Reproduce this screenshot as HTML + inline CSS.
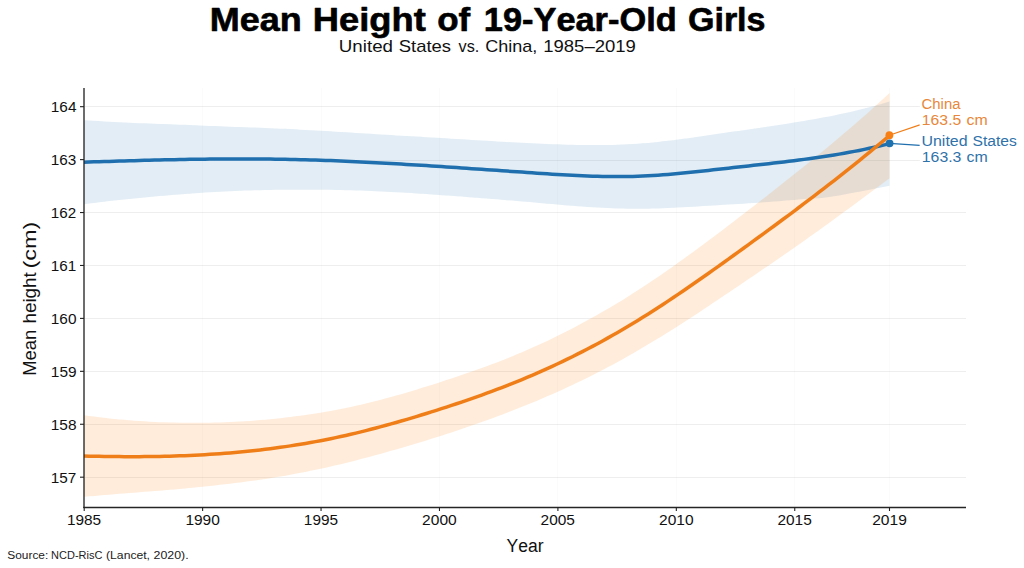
<!DOCTYPE html>
<html><head><meta charset="utf-8"><style>
html,body{margin:0;padding:0;background:#fff;width:1024px;height:568px;overflow:hidden}
svg{display:block}
text{font-family:"Liberation Sans",sans-serif;fill:#111;font-kerning:none;font-variant-ligatures:none}
.gh{stroke:#000;stroke-opacity:0.066;stroke-width:1}
.gv{stroke:#000;stroke-opacity:0.014;stroke-width:1}
.tk{stroke:#222;stroke-width:1.1}
</style></head><body>
<svg width="1024" height="568" viewBox="0 0 1024 568">
<rect width="1024" height="568" fill="#fff"/>
<line x1="85" y1="477.5" x2="966" y2="477.5" class="gh"/><line x1="85" y1="424.5" x2="966" y2="424.5" class="gh"/><line x1="85" y1="371.5" x2="966" y2="371.5" class="gh"/><line x1="85" y1="318.5" x2="966" y2="318.5" class="gh"/><line x1="85" y1="265.5" x2="966" y2="265.5" class="gh"/><line x1="85" y1="212.5" x2="966" y2="212.5" class="gh"/><line x1="85" y1="160.5" x2="966" y2="160.5" class="gh"/><line x1="85" y1="106.5" x2="966" y2="106.5" class="gh"/><line x1="202.5" y1="88" x2="202.5" y2="506.5" class="gv"/><line x1="321.5" y1="88" x2="321.5" y2="506.5" class="gv"/><line x1="439.5" y1="88" x2="439.5" y2="506.5" class="gv"/><line x1="557.5" y1="88" x2="557.5" y2="506.5" class="gv"/><line x1="676.5" y1="88" x2="676.5" y2="506.5" class="gv"/><line x1="794.5" y1="88" x2="794.5" y2="506.5" class="gv"/><line x1="889.5" y1="88" x2="889.5" y2="506.5" class="gv"/>
<path d="M84.00,120.18 L89.03,120.51 L94.07,120.82 L99.10,121.12 L104.14,121.41 L109.17,121.69 L114.21,121.96 L119.24,122.21 L124.28,122.45 L129.31,122.69 L134.34,122.91 L139.38,123.13 L144.41,123.34 L149.45,123.54 L154.48,123.73 L159.52,123.92 L164.55,124.11 L169.58,124.29 L174.62,124.48 L179.65,124.67 L184.69,124.87 L189.72,125.07 L194.76,125.27 L199.79,125.48 L204.82,125.69 L209.86,125.89 L214.89,126.10 L219.93,126.30 L224.96,126.50 L230.00,126.69 L235.03,126.89 L240.07,127.07 L245.10,127.25 L250.13,127.42 L255.17,127.60 L260.20,127.78 L265.24,127.98 L270.27,128.19 L275.31,128.40 L280.34,128.63 L285.38,128.86 L290.41,129.11 L295.44,129.36 L300.48,129.63 L305.51,129.90 L310.55,130.18 L315.58,130.46 L320.62,130.75 L325.65,131.05 L330.68,131.35 L335.72,131.66 L340.75,131.96 L345.79,132.28 L350.82,132.59 L355.86,132.90 L360.89,133.22 L365.93,133.53 L370.96,133.84 L375.99,134.16 L381.03,134.47 L386.06,134.78 L391.10,135.08 L396.13,135.38 L401.17,135.68 L406.20,135.97 L411.23,136.27 L416.27,136.57 L421.30,136.87 L426.34,137.17 L431.37,137.47 L436.41,137.77 L441.44,138.07 L446.47,138.37 L451.51,138.67 L456.54,138.98 L461.58,139.28 L466.61,139.58 L471.65,139.89 L476.68,140.19 L481.72,140.50 L486.75,140.80 L491.78,141.10 L496.82,141.40 L501.85,141.70 L506.89,142.00 L511.92,142.28 L516.96,142.55 L521.99,142.81 L527.02,143.06 L532.06,143.30 L537.09,143.54 L542.13,143.76 L547.16,143.97 L552.20,144.17 L557.23,144.36 L562.27,144.53 L567.30,144.68 L572.33,144.81 L577.37,144.92 L582.40,145.01 L587.44,145.07 L592.47,145.11 L597.51,145.12 L602.54,145.09 L607.57,145.03 L612.61,144.93 L617.64,144.78 L622.68,144.59 L627.71,144.35 L632.75,144.06 L637.78,143.73 L642.82,143.34 L647.85,142.90 L652.88,142.43 L657.92,141.91 L662.95,141.36 L667.99,140.78 L673.02,140.17 L678.06,139.53 L683.09,138.87 L688.12,138.18 L693.16,137.49 L698.19,136.78 L703.23,136.05 L708.26,135.32 L713.30,134.59 L718.33,133.84 L723.37,133.10 L728.40,132.35 L733.43,131.61 L738.47,130.88 L743.50,130.14 L748.54,129.41 L753.57,128.68 L758.61,127.95 L763.64,127.21 L768.67,126.47 L773.71,125.72 L778.74,124.96 L783.78,124.19 L788.81,123.40 L793.85,122.60 L798.88,121.78 L803.92,120.94 L808.95,120.08 L813.98,119.20 L819.02,118.29 L824.05,117.36 L829.09,116.39 L834.12,115.39 L839.16,114.36 L844.19,113.29 L849.23,112.18 L854.26,111.02 L859.29,109.82 L864.33,108.57 L869.36,107.28 L874.40,105.94 L879.43,104.54 L884.47,103.09 L889.50,101.59 L889.50,185.79 L884.47,186.83 L879.43,187.84 L874.40,188.83 L869.36,189.79 L864.33,190.74 L859.29,191.68 L854.26,192.61 L849.23,193.54 L844.19,194.47 L839.16,195.38 L834.12,196.25 L829.09,197.06 L824.05,197.70 L819.02,198.16 L813.98,198.50 L808.95,198.80 L803.92,199.11 L798.88,199.49 L793.85,199.91 L788.81,200.34 L783.78,200.76 L778.74,201.18 L773.71,201.59 L768.67,201.99 L763.64,202.37 L758.61,202.72 L753.57,203.05 L748.54,203.36 L743.50,203.67 L738.47,203.96 L733.43,204.26 L728.40,204.56 L723.37,204.86 L718.33,205.16 L713.30,205.48 L708.26,205.79 L703.23,206.11 L698.19,206.43 L693.16,206.75 L688.12,207.05 L683.09,207.34 L678.06,207.61 L673.02,207.85 L667.99,208.07 L662.95,208.27 L657.92,208.43 L652.88,208.57 L647.85,208.67 L642.82,208.73 L637.78,208.76 L632.75,208.74 L627.71,208.68 L622.68,208.59 L617.64,208.45 L612.61,208.28 L607.57,208.07 L602.54,207.84 L597.51,207.58 L592.47,207.28 L587.44,206.96 L582.40,206.61 L577.37,206.23 L572.33,205.84 L567.30,205.43 L562.27,205.00 L557.23,204.57 L552.20,204.12 L547.16,203.67 L542.13,203.22 L537.09,202.76 L532.06,202.31 L527.02,201.86 L521.99,201.42 L516.96,200.99 L511.92,200.57 L506.89,200.15 L501.85,199.74 L496.82,199.34 L491.78,198.95 L486.75,198.55 L481.72,198.16 L476.68,197.77 L471.65,197.38 L466.61,196.99 L461.58,196.61 L456.54,196.23 L451.51,195.86 L446.47,195.49 L441.44,195.13 L436.41,194.77 L431.37,194.42 L426.34,194.07 L421.30,193.74 L416.27,193.41 L411.23,193.09 L406.20,192.78 L401.17,192.48 L396.13,192.19 L391.10,191.91 L386.06,191.65 L381.03,191.41 L375.99,191.19 L370.96,190.98 L365.93,190.78 L360.89,190.60 L355.86,190.44 L350.82,190.29 L345.79,190.16 L340.75,190.04 L335.72,189.94 L330.68,189.85 L325.65,189.78 L320.62,189.72 L315.58,189.68 L310.55,189.66 L305.51,189.64 L300.48,189.64 L295.44,189.66 L290.41,189.69 L285.38,189.74 L280.34,189.80 L275.31,189.87 L270.27,189.95 L265.24,190.05 L260.20,190.16 L255.17,190.28 L250.13,190.42 L245.10,190.57 L240.07,190.74 L235.03,190.95 L230.00,191.17 L224.96,191.42 L219.93,191.69 L214.89,191.98 L209.86,192.29 L204.82,192.61 L199.79,192.95 L194.76,193.31 L189.72,193.67 L184.69,194.05 L179.65,194.44 L174.62,194.83 L169.58,195.23 L164.55,195.64 L159.52,196.06 L154.48,196.49 L149.45,196.94 L144.41,197.40 L139.38,197.88 L134.34,198.38 L129.31,198.89 L124.28,199.41 L119.24,199.95 L114.21,200.51 L109.17,201.09 L104.14,201.68 L99.10,202.28 L94.07,202.90 L89.03,203.54 L84.00,204.18 Z" fill="#1f77b4" fill-opacity="0.13"/>
<path d="M84.00,415.21 L89.03,415.91 L94.07,416.58 L99.10,417.21 L104.14,417.82 L109.17,418.39 L114.21,418.92 L119.24,419.42 L124.28,419.87 L129.31,420.30 L134.34,420.69 L139.38,421.04 L144.41,421.37 L149.45,421.66 L154.48,421.91 L159.52,422.13 L164.55,422.32 L169.58,422.47 L174.62,422.60 L179.65,422.70 L184.69,422.77 L189.72,422.82 L194.76,422.84 L199.79,422.83 L204.82,422.79 L209.86,422.72 L214.89,422.62 L219.93,422.48 L224.96,422.31 L230.00,422.10 L235.03,421.86 L240.07,421.59 L245.10,421.27 L250.13,420.91 L255.17,420.53 L260.20,420.11 L265.24,419.67 L270.27,419.20 L275.31,418.69 L280.34,418.16 L285.38,417.59 L290.41,416.99 L295.44,416.36 L300.48,415.69 L305.51,414.99 L310.55,414.25 L315.58,413.47 L320.62,412.65 L325.65,411.79 L330.68,410.90 L335.72,409.96 L340.75,408.98 L345.79,407.96 L350.82,406.89 L355.86,405.79 L360.89,404.65 L365.93,403.47 L370.96,402.25 L375.99,400.99 L381.03,399.69 L386.06,398.36 L391.10,396.99 L396.13,395.58 L401.17,394.14 L406.20,392.67 L411.23,391.17 L416.27,389.66 L421.30,388.12 L426.34,386.56 L431.37,384.98 L436.41,383.38 L441.44,381.76 L446.47,380.12 L451.51,378.46 L456.54,376.78 L461.58,375.08 L466.61,373.35 L471.65,371.59 L476.68,369.81 L481.72,367.99 L486.75,366.15 L491.78,364.28 L496.82,362.38 L501.85,360.44 L506.89,358.46 L511.92,356.43 L516.96,354.36 L521.99,352.24 L527.02,350.07 L532.06,347.85 L537.09,345.58 L542.13,343.27 L547.16,340.91 L552.20,338.50 L557.23,336.04 L562.27,333.54 L567.30,330.99 L572.33,328.39 L577.37,325.75 L582.40,323.06 L587.44,320.33 L592.47,317.56 L597.51,314.74 L602.54,311.87 L607.57,308.96 L612.61,305.99 L617.64,302.97 L622.68,299.89 L627.71,296.76 L632.75,293.58 L637.78,290.35 L642.82,287.07 L647.85,283.73 L652.88,280.35 L657.92,276.93 L662.95,273.46 L667.99,269.96 L673.02,266.42 L678.06,262.84 L683.09,259.23 L688.12,255.59 L693.16,251.92 L698.19,248.22 L703.23,244.50 L708.26,240.75 L713.30,236.98 L718.33,233.19 L723.37,229.38 L728.40,225.55 L733.43,221.70 L738.47,217.84 L743.50,213.98 L748.54,210.10 L753.57,206.20 L758.61,202.30 L763.64,198.38 L768.67,194.46 L773.71,190.51 L778.74,186.55 L783.78,182.58 L788.81,178.59 L793.85,174.59 L798.88,170.57 L803.92,166.53 L808.95,162.47 L813.98,158.40 L819.02,154.30 L824.05,150.18 L829.09,146.03 L834.12,141.84 L839.16,137.62 L844.19,133.36 L849.23,129.06 L854.26,124.72 L859.29,120.33 L864.33,115.88 L869.36,111.39 L874.40,106.86 L879.43,102.27 L884.47,97.65 L889.50,92.97 L889.50,178.17 L884.47,181.98 L879.43,185.77 L874.40,189.54 L869.36,193.29 L864.33,197.03 L859.29,200.75 L854.26,204.46 L849.23,208.17 L844.19,211.86 L839.16,215.55 L834.12,219.22 L829.09,222.88 L824.05,226.52 L819.02,230.14 L813.98,233.75 L808.95,237.34 L803.92,240.91 L798.88,244.46 L793.85,247.98 L788.81,251.49 L783.78,254.99 L778.74,258.47 L773.71,261.93 L768.67,265.39 L763.64,268.83 L758.61,272.26 L753.57,275.69 L748.54,279.11 L743.50,282.52 L738.47,285.93 L733.43,289.33 L728.40,292.72 L723.37,296.11 L718.33,299.49 L713.30,302.86 L708.26,306.21 L703.23,309.56 L698.19,312.88 L693.16,316.18 L688.12,319.46 L683.09,322.71 L678.06,325.94 L673.02,329.13 L667.99,332.30 L662.95,335.43 L657.92,338.53 L652.88,341.59 L647.85,344.62 L642.82,347.60 L637.78,350.55 L632.75,353.45 L627.71,356.31 L622.68,359.13 L617.64,361.91 L612.61,364.65 L607.57,367.34 L602.54,370.00 L597.51,372.62 L592.47,375.19 L587.44,377.71 L582.40,380.19 L577.37,382.62 L572.33,385.01 L567.30,387.36 L562.27,389.67 L557.23,391.94 L552.20,394.17 L547.16,396.37 L542.13,398.53 L537.09,400.65 L532.06,402.74 L527.02,404.79 L521.99,406.82 L516.96,408.82 L511.92,410.79 L506.89,412.73 L501.85,414.66 L496.82,416.55 L491.78,418.42 L486.75,420.26 L481.72,422.07 L476.68,423.85 L471.65,425.61 L466.61,427.33 L461.58,429.04 L456.54,430.72 L451.51,432.38 L446.47,434.02 L441.44,435.64 L436.41,437.24 L431.37,438.82 L426.34,440.39 L421.30,441.94 L416.27,443.47 L411.23,444.98 L406.20,446.47 L401.17,447.94 L396.13,449.39 L391.10,450.82 L386.06,452.24 L381.03,453.65 L375.99,455.03 L370.96,456.40 L365.93,457.75 L360.89,459.07 L355.86,460.38 L350.82,461.66 L345.79,462.91 L340.75,464.14 L335.72,465.33 L330.68,466.50 L325.65,467.64 L320.62,468.75 L315.58,469.82 L310.55,470.87 L305.51,471.89 L300.48,472.87 L295.44,473.83 L290.41,474.76 L285.38,475.65 L280.34,476.52 L275.31,477.36 L270.27,478.17 L265.24,478.95 L260.20,479.70 L255.17,480.42 L250.13,481.11 L245.10,481.77 L240.07,482.42 L235.03,483.06 L230.00,483.68 L224.96,484.28 L219.93,484.86 L214.89,485.43 L209.86,485.99 L204.82,486.52 L199.79,487.05 L194.76,487.55 L189.72,488.04 L184.69,488.52 L179.65,488.97 L174.62,489.42 L169.58,489.84 L164.55,490.25 L159.52,490.66 L154.48,491.06 L149.45,491.45 L144.41,491.85 L139.38,492.25 L134.34,492.64 L129.31,493.04 L124.28,493.43 L119.24,493.82 L114.21,494.23 L109.17,494.64 L104.14,495.06 L99.10,495.49 L94.07,495.93 L89.03,496.37 L84.00,496.81 Z" fill="#ff7f0e" fill-opacity="0.15"/>
<path d="M84.00,162.18 L89.03,162.02 L94.07,161.86 L99.10,161.70 L104.14,161.54 L109.17,161.39 L114.21,161.23 L119.24,161.08 L124.28,160.93 L129.31,160.79 L134.34,160.65 L139.38,160.51 L144.41,160.37 L149.45,160.24 L154.48,160.11 L159.52,159.99 L164.55,159.87 L169.58,159.76 L174.62,159.65 L179.65,159.55 L184.69,159.46 L189.72,159.37 L194.76,159.29 L199.79,159.22 L204.82,159.15 L209.86,159.09 L214.89,159.04 L219.93,158.99 L224.96,158.96 L230.00,158.93 L235.03,158.92 L240.07,158.91 L245.10,158.91 L250.13,158.92 L255.17,158.94 L260.20,158.97 L265.24,159.02 L270.27,159.07 L275.31,159.14 L280.34,159.21 L285.38,159.30 L290.41,159.40 L295.44,159.51 L300.48,159.64 L305.51,159.77 L310.55,159.92 L315.58,160.07 L320.62,160.24 L325.65,160.42 L330.68,160.60 L335.72,160.80 L340.75,161.00 L345.79,161.22 L350.82,161.44 L355.86,161.67 L360.89,161.91 L365.93,162.16 L370.96,162.41 L375.99,162.67 L381.03,162.94 L386.06,163.22 L391.10,163.50 L396.13,163.78 L401.17,164.08 L406.20,164.38 L411.23,164.68 L416.27,164.99 L421.30,165.30 L426.34,165.62 L431.37,165.94 L436.41,166.27 L441.44,166.60 L446.47,166.93 L451.51,167.27 L456.54,167.60 L461.58,167.94 L466.61,168.29 L471.65,168.63 L476.68,168.98 L481.72,169.33 L486.75,169.67 L491.78,170.02 L496.82,170.37 L501.85,170.72 L506.89,171.07 L511.92,171.42 L516.96,171.77 L521.99,172.12 L527.02,172.46 L532.06,172.81 L537.09,173.15 L542.13,173.49 L547.16,173.83 L552.20,174.15 L557.23,174.47 L562.27,174.77 L567.30,175.06 L572.33,175.33 L577.37,175.58 L582.40,175.81 L587.44,176.02 L592.47,176.20 L597.51,176.35 L602.54,176.47 L607.57,176.55 L612.61,176.60 L617.64,176.62 L622.68,176.59 L627.71,176.52 L632.75,176.40 L637.78,176.24 L642.82,176.03 L647.85,175.78 L652.88,175.49 L657.92,175.17 L662.95,174.80 L667.99,174.41 L673.02,173.98 L678.06,173.53 L683.09,173.06 L688.12,172.56 L693.16,172.04 L698.19,171.51 L703.23,170.97 L708.26,170.41 L713.30,169.85 L718.33,169.28 L723.37,168.71 L728.40,168.14 L733.43,167.57 L738.47,167.01 L743.50,166.45 L748.54,165.89 L753.57,165.34 L758.61,164.78 L763.64,164.22 L768.67,163.65 L773.71,163.08 L778.74,162.50 L783.78,161.90 L788.81,161.30 L793.85,160.68 L798.88,160.04 L803.92,159.38 L808.95,158.71 L813.98,158.01 L819.02,157.29 L824.05,156.54 L829.09,155.76 L834.12,154.96 L839.16,154.12 L844.19,153.25 L849.23,152.34 L854.26,151.40 L859.29,150.42 L864.33,149.39 L869.36,148.33 L874.40,147.21 L879.43,146.06 L884.47,144.85 L889.50,143.59" fill="none" stroke="#1f6fae" stroke-width="3.5" stroke-linejoin="round"/>
<path d="M84.00,456.01 L89.03,456.14 L94.07,456.25 L99.10,456.35 L104.14,456.44 L109.17,456.52 L114.21,456.58 L119.24,456.62 L124.28,456.65 L129.31,456.67 L134.34,456.66 L139.38,456.65 L144.41,456.61 L149.45,456.56 L154.48,456.49 L159.52,456.39 L164.55,456.29 L169.58,456.16 L174.62,456.01 L179.65,455.84 L184.69,455.64 L189.72,455.43 L194.76,455.20 L199.79,454.94 L204.82,454.66 L209.86,454.35 L214.89,454.03 L219.93,453.67 L224.96,453.29 L230.00,452.89 L235.03,452.46 L240.07,452.00 L245.10,451.52 L250.13,451.01 L255.17,450.47 L260.20,449.90 L265.24,449.31 L270.27,448.68 L275.31,448.03 L280.34,447.34 L285.38,446.62 L290.41,445.88 L295.44,445.10 L300.48,444.28 L305.51,443.44 L310.55,442.56 L315.58,441.65 L320.62,440.70 L325.65,439.72 L330.68,438.70 L335.72,437.65 L340.75,436.56 L345.79,435.43 L350.82,434.28 L355.86,433.08 L360.89,431.86 L365.93,430.61 L370.96,429.32 L375.99,428.01 L381.03,426.67 L386.06,425.30 L391.10,423.90 L396.13,422.48 L401.17,421.04 L406.20,419.57 L411.23,418.08 L416.27,416.56 L421.30,415.03 L426.34,413.47 L431.37,411.90 L436.41,410.31 L441.44,408.70 L446.47,407.07 L451.51,405.42 L456.54,403.75 L461.58,402.06 L466.61,400.34 L471.65,398.60 L476.68,396.83 L481.72,395.03 L486.75,393.21 L491.78,391.35 L496.82,389.47 L501.85,387.55 L506.89,385.60 L511.92,383.61 L516.96,381.59 L521.99,379.53 L527.02,377.43 L532.06,375.29 L537.09,373.12 L542.13,370.90 L547.16,368.64 L552.20,366.34 L557.23,363.99 L562.27,361.61 L567.30,359.18 L572.33,356.70 L577.37,354.19 L582.40,351.63 L587.44,349.02 L592.47,346.37 L597.51,343.68 L602.54,340.94 L607.57,338.15 L612.61,335.32 L617.64,332.44 L622.68,329.51 L627.71,326.54 L632.75,323.52 L637.78,320.45 L642.82,317.33 L647.85,314.17 L652.88,310.97 L657.92,307.73 L662.95,304.45 L667.99,301.13 L673.02,297.77 L678.06,294.39 L683.09,290.97 L688.12,287.52 L693.16,284.05 L698.19,280.55 L703.23,277.03 L708.26,273.48 L713.30,269.92 L718.33,266.34 L723.37,262.75 L728.40,259.14 L733.43,255.52 L738.47,251.88 L743.50,248.25 L748.54,244.60 L753.57,240.95 L758.61,237.28 L763.64,233.61 L768.67,229.92 L773.71,226.22 L778.74,222.51 L783.78,218.78 L788.81,215.04 L793.85,211.29 L798.88,207.51 L803.92,203.72 L808.95,199.91 L813.98,196.07 L819.02,192.22 L824.05,188.35 L829.09,184.45 L834.12,180.53 L839.16,176.59 L844.19,172.61 L849.23,168.62 L854.26,164.59 L859.29,160.54 L864.33,156.46 L869.36,152.34 L874.40,148.20 L879.43,144.02 L884.47,139.81 L889.50,135.57" fill="none" stroke="#f07e18" stroke-width="3.5" stroke-linejoin="round"/>
<line x1="889.5" y1="143.3" x2="919.8" y2="145.3" stroke="#1f6fae" stroke-width="1.2"/>
<line x1="889.3" y1="135.2" x2="919.8" y2="124.9" stroke="#f07e18" stroke-width="1.2"/>
<circle cx="889.6" cy="143.3" r="3.9" fill="#1f72b0"/>
<circle cx="889.4" cy="135.2" r="3.9" fill="#f87f14"/>
<line x1="84" y1="88" x2="84" y2="508.1" stroke="#252525" stroke-width="1.35"/>
<line x1="83.35" y1="507.5" x2="966" y2="507.5" stroke="#252525" stroke-width="1.35"/>
<line x1="80" y1="477.19" x2="84" y2="477.19" class="tk"/><line x1="80" y1="424.26" x2="84" y2="424.26" class="tk"/><line x1="80" y1="371.33" x2="84" y2="371.33" class="tk"/><line x1="80" y1="318.40" x2="84" y2="318.40" class="tk"/><line x1="80" y1="265.47" x2="84" y2="265.47" class="tk"/><line x1="80" y1="212.54" x2="84" y2="212.54" class="tk"/><line x1="80" y1="159.61" x2="84" y2="159.61" class="tk"/><line x1="80" y1="106.68" x2="84" y2="106.68" class="tk"/><line x1="84.20" y1="507" x2="84.20" y2="511" class="tk"/><line x1="202.62" y1="507" x2="202.62" y2="511" class="tk"/><line x1="321.05" y1="507" x2="321.05" y2="511" class="tk"/><line x1="439.47" y1="507" x2="439.47" y2="511" class="tk"/><line x1="557.90" y1="507" x2="557.90" y2="511" class="tk"/><line x1="676.33" y1="507" x2="676.33" y2="511" class="tk"/><line x1="794.75" y1="507" x2="794.75" y2="511" class="tk"/><line x1="889.49" y1="507" x2="889.49" y2="511" class="tk"/>
<text x="50.81" y="482.79" style="font-size:13.80px" textLength="25.58" lengthAdjust="spacingAndGlyphs">157</text><text x="50.80" y="429.86" style="font-size:13.80px" textLength="25.72" lengthAdjust="spacingAndGlyphs">158</text><text x="50.80" y="376.93" style="font-size:13.80px" textLength="25.76" lengthAdjust="spacingAndGlyphs">159</text><text x="50.80" y="324.00" style="font-size:13.80px" textLength="25.68" lengthAdjust="spacingAndGlyphs">160</text><text x="50.81" y="271.07" style="font-size:13.80px" textLength="25.46" lengthAdjust="spacingAndGlyphs">161</text><text x="50.82" y="218.14" style="font-size:13.80px" textLength="25.37" lengthAdjust="spacingAndGlyphs">162</text><text x="50.81" y="165.21" style="font-size:13.80px" textLength="25.56" lengthAdjust="spacingAndGlyphs">163</text><text x="50.80" y="112.28" style="font-size:13.80px" textLength="25.67" lengthAdjust="spacingAndGlyphs">164</text><text x="66.98" y="524.80" style="font-size:13.80px" textLength="34.22" lengthAdjust="spacingAndGlyphs">1985</text><text x="185.40" y="524.80" style="font-size:13.80px" textLength="34.47" lengthAdjust="spacingAndGlyphs">1990</text><text x="303.83" y="524.80" style="font-size:13.80px" textLength="34.22" lengthAdjust="spacingAndGlyphs">1995</text><text x="422.14" y="524.80" style="font-size:13.80px" textLength="34.58" lengthAdjust="spacingAndGlyphs">2000</text><text x="540.57" y="524.80" style="font-size:13.80px" textLength="34.33" lengthAdjust="spacingAndGlyphs">2005</text><text x="658.99" y="524.80" style="font-size:13.80px" textLength="34.58" lengthAdjust="spacingAndGlyphs">2010</text><text x="777.42" y="524.80" style="font-size:13.80px" textLength="34.33" lengthAdjust="spacingAndGlyphs">2015</text><text x="872.16" y="524.80" style="font-size:13.80px" textLength="34.66" lengthAdjust="spacingAndGlyphs">2019</text>
<rect x="919.8" y="95" width="104.2" height="33.5" fill="#fff"/>
<rect x="919.8" y="131.5" width="104.2" height="34" fill="#fff"/>
<text x="209.74" y="30.70" style="font-size:32.60px;font-weight:bold;fill:#000" textLength="92.04" lengthAdjust="spacingAndGlyphs" stroke="#000" stroke-width="0.6" stroke-linejoin="round">Mean</text><text x="312.82" y="30.70" style="font-size:32.60px;font-weight:bold;fill:#000" textLength="113.08" lengthAdjust="spacingAndGlyphs" stroke="#000" stroke-width="0.6" stroke-linejoin="round">Height</text><text x="437.28" y="30.70" style="font-size:32.60px;font-weight:bold;fill:#000" textLength="33.00" lengthAdjust="spacingAndGlyphs" stroke="#000" stroke-width="0.6" stroke-linejoin="round">of</text><text x="483.79" y="30.70" style="font-size:32.60px;font-weight:bold;fill:#000" textLength="192.93" lengthAdjust="spacingAndGlyphs" stroke="#000" stroke-width="0.6" stroke-linejoin="round">19-Year-Old</text><text x="687.95" y="30.70" style="font-size:32.60px;font-weight:bold;fill:#000" textLength="77.59" lengthAdjust="spacingAndGlyphs" stroke="#000" stroke-width="0.6" stroke-linejoin="round">Girls</text><text x="338.85" y="52.30" style="font-size:17.00px;fill:#111" textLength="54.15" lengthAdjust="spacingAndGlyphs">United</text><text x="398.76" y="52.30" style="font-size:17.00px;fill:#111" textLength="52.30" lengthAdjust="spacingAndGlyphs">States</text><text x="458.54" y="52.30" style="font-size:17.00px;fill:#111" textLength="20.74" lengthAdjust="spacingAndGlyphs">vs.</text><text x="485.18" y="52.30" style="font-size:17.00px;fill:#111" textLength="52.14" lengthAdjust="spacingAndGlyphs">China,</text><text x="543.19" y="52.30" style="font-size:17.00px;fill:#111" textLength="92.69" lengthAdjust="spacingAndGlyphs">1985–2019</text><text x="506.52" y="551.70" style="font-size:18.00px;fill:#111" textLength="36.98" lengthAdjust="spacingAndGlyphs">Year</text><g transform="translate(36.3,0) rotate(-90)"><text x="-375.71" y="0.00" style="font-size:18.00px;fill:#111" textLength="45.90" lengthAdjust="spacingAndGlyphs">Mean</text><text x="-323.61" y="0.00" style="font-size:18.00px;fill:#111" textLength="51.45" lengthAdjust="spacingAndGlyphs">height</text><text x="-268.56" y="0.00" style="font-size:18.00px;fill:#111" textLength="46.91" lengthAdjust="spacingAndGlyphs">(cm)</text></g><text x="7.26" y="558.80" style="font-size:11.70px;fill:#222" textLength="41.03" lengthAdjust="spacingAndGlyphs">Source:</text><text x="51.10" y="558.80" style="font-size:11.70px;fill:#222" textLength="51.32" lengthAdjust="spacingAndGlyphs">NCD-RisC</text><text x="106.05" y="558.80" style="font-size:11.70px;fill:#222" textLength="43.95" lengthAdjust="spacingAndGlyphs">(Lancet,</text><text x="153.58" y="558.80" style="font-size:11.70px;fill:#222" textLength="35.05" lengthAdjust="spacingAndGlyphs">2020).</text><text x="921.53" y="109.40" style="font-size:14.70px;fill:#e8873a" textLength="38.96" lengthAdjust="spacingAndGlyphs">China</text><text x="921.85" y="124.60" style="font-size:14.70px;fill:#e8873a" textLength="39.45" lengthAdjust="spacingAndGlyphs">163.5</text><text x="966.45" y="124.60" style="font-size:14.70px;fill:#e8873a" textLength="21.24" lengthAdjust="spacingAndGlyphs">cm</text><text x="921.50" y="145.70" style="font-size:14.70px;fill:#2f72a9" textLength="46.08" lengthAdjust="spacingAndGlyphs">United</text><text x="972.53" y="145.70" style="font-size:14.70px;fill:#2f72a9" textLength="44.33" lengthAdjust="spacingAndGlyphs">States</text><text x="921.84" y="161.60" style="font-size:14.70px;fill:#2f72a9" textLength="39.59" lengthAdjust="spacingAndGlyphs">163.3</text><text x="966.45" y="161.60" style="font-size:14.70px;fill:#2f72a9" textLength="21.24" lengthAdjust="spacingAndGlyphs">cm</text>
</svg>
</body></html>
